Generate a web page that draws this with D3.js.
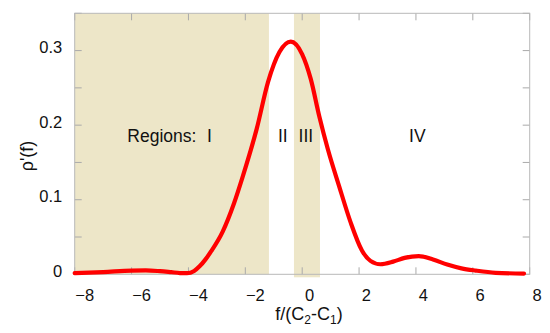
<!DOCTYPE html>
<html>
<head>
<meta charset="utf-8">
<script src="https://cdn.jsdelivr.net/npm/d3@7"></script>
<style>
    body { margin: 0; background: #fff; }
    text { font-family: "Liberation Sans", Arial, Helvetica, sans-serif; fill: #111; }
</style>
</head>
<body>
<div id="wrapper"></div>
<script>

// curve
const fValues = [-8, -7, -6, -5.5, -5, -4.6, -4.3, -4.05, -3.8, -3.6, -3.4, -3.2, -2.8, -2.4, -2.1, -1.6, -1.2, -0.8, -0.4,
    0, 0.3, 0.6, 0.9, 1.3, 1.7, 2.1, 2.4, 2.75, 3.2, 3.6, 4.1, 4.6, 5.1, 5.6, 6.1, 6.8, 7.8]
const rhoValues = [0.0015, 0.003, 0.005, 0.0053, 0.0042, 0.0028, 0.0017, 0.0015, 0.0045, 0.011, 0.02, 0.031, 0.057, 0.095, 0.13, 0.195, 0.258, 0.298, 0.312,
    0.295, 0.262, 0.212, 0.168, 0.118, 0.07, 0.032, 0.018, 0.0135, 0.017, 0.022, 0.0245, 0.02, 0.013, 0.008, 0.005, 0.002, 0.001]

// shaded bands (f units)
const bandStarts = [-8, -0.29]
const bandEnds = [-1.17, 0.625]

// region names
const regionNames = ["Regions:", "I", "II", "III", "IV"]
const regionAt = [-3.72, -3.26, -0.68, 0.13, 4.05]
const regionAnchor = ["end", "middle", "middle", "middle", "middle"]
const regionLevel = 0.178

const xTicks = [-8, -6, -4, -2, 0, 2, 4, 6, 8]
const yTicks = [0, 0.1, 0.2, 0.3]
const yMinorTicks = [0, 0.05, 0.1, 0.15, 0.2, 0.25, 0.3, 0.35]

function drawChart() {

    const dataset = fValues.map((f, i) => ({f: f, rho: rhoValues[i]}))

    let dimensions = {
        width: 550,
        height: 333,
        margin: {
            top: 13.3,
            right: 20.3,
            bottom: 58.7,
            left: 74.7,
        },
    }
    dimensions.boundedWidth = dimensions.width - dimensions.margin.left - dimensions.margin.right
    dimensions.boundedHeight = dimensions.height - dimensions.margin.top - dimensions.margin.bottom

    const wrapper = d3.select("#wrapper")
        .append("svg")
        .attr("width", dimensions.width)
        .attr("height", dimensions.height)

    const bounds = wrapper.append("g")
        .attr("transform", `translate(${dimensions.margin.left}, ${dimensions.margin.top})`)

    const xScale = d3.scaleLinear()
        .domain([-8, 8])
        .range([0, dimensions.boundedWidth])

    const yScale = d3.scaleLinear()
        .domain([0, 0.35])
        .range([dimensions.boundedHeight, 0])

    // bands
    bounds.selectAll(".band")
        .data(bandStarts)
        .enter().append("rect")
        .attr("class", "band")
        .attr("x", (d, i) => xScale(d))
        .attr("y", 0)
        .attr("width", (d, i) => xScale(bandEnds[i]) - xScale(d))
        .attr("height", (d, i) => dimensions.boundedHeight + (i == 1 ? 3 : 0))
        .attr("fill", "#ede6c8")

    // ticks (inward, gray)
    const tickLen = 7
    const tickColor = "#aaaaaa"
    const ticks = bounds.append("g")
    xTicks.forEach(t => {
        ticks.append("line")
            .attr("x1", xScale(t)).attr("x2", xScale(t))
            .attr("y1", dimensions.boundedHeight).attr("y2", dimensions.boundedHeight - tickLen)
            .attr("stroke", tickColor)
        ticks.append("line")
            .attr("x1", xScale(t)).attr("x2", xScale(t))
            .attr("y1", 0).attr("y2", tickLen)
            .attr("stroke", tickColor)
    })
    yMinorTicks.forEach(t => {
        ticks.append("line")
            .attr("x1", 0).attr("x2", tickLen)
            .attr("y1", yScale(t)).attr("y2", yScale(t))
            .attr("stroke", tickColor)
        ticks.append("line")
            .attr("x1", dimensions.boundedWidth).attr("x2", dimensions.boundedWidth - tickLen)
            .attr("y1", yScale(t)).attr("y2", yScale(t))
            .attr("stroke", tickColor)
    })

    // frame
    bounds.append("rect")
        .attr("x", 0)
        .attr("y", 0)
        .attr("width", dimensions.boundedWidth)
        .attr("height", dimensions.boundedHeight)
        .attr("fill", "none")
        .attr("stroke", "#b8b8b8")

    // the curve
    const line = d3.line()
        .x(d => xScale(d.f))
        .y(d => yScale(d.rho))
        .curve(d3.curveMonotoneX)

    bounds.append("path")
        .datum(dataset)
        .attr("d", line)
        .attr("fill", "none")
        .attr("stroke", "#ff0000")
        .attr("stroke-width", 4.2)
        .attr("stroke-linejoin", "round")
        .attr("stroke-linecap", "round")

    // region labels
    bounds.selectAll(".region")
        .data(regionNames)
        .enter().append("text")
        .attr("class", "region")
        .attr("x", (d, i) => xScale(regionAt[i]))
        .attr("y", yScale(regionLevel))
        .attr("text-anchor", (d, i) => regionAnchor[i])
        .style("font-size", "17.5px")
        .text(d => d)

    // tick labels
    bounds.selectAll(".xlabel")
        .data(xTicks)
        .enter().append("text")
        .attr("class", "xlabel")
        .attr("x", d => xScale(d) + (d < 0 ? 10 : 7.3))
        .attr("y", dimensions.boundedHeight + 26.5)
        .attr("text-anchor", "middle")
        .style("font-size", "16.5px")
        .text(d => d3.format("")(d).replace("-", "\u2212"))

    bounds.selectAll(".ylabel")
        .data(yTicks)
        .enter().append("text")
        .attr("class", "ylabel")
        .attr("x", -12.5)
        .attr("y", d => yScale(d) + 2.5)
        .attr("text-anchor", "end")
        .style("font-size", "16.5px")
        .text(d => d == 0 ? "0" : d3.format(".1f")(d))

    // axis titles
    const xTitle = bounds.append("text")
        .attr("x", 309 - dimensions.margin.left)
        .attr("y", 320 - dimensions.margin.top)
        .attr("text-anchor", "middle")
        .style("font-size", "18px")
    xTitle.append("tspan").text("f/(C")
    xTitle.append("tspan").attr("dy", 4).style("font-size", "12px").text("2")
    xTitle.append("tspan").attr("dy", -4).text("-C")
    xTitle.append("tspan").attr("dy", 4).style("font-size", "12px").text("1")
    xTitle.append("tspan").attr("dy", -4).text(")")

    wrapper.append("text")
        .attr("transform", "translate(33, 156) rotate(-90)")
        .attr("text-anchor", "middle")
        .style("font-size", "18px")
        .text("\u03c1'(f)")
}

drawChart()
</script>
</body>
</html>
